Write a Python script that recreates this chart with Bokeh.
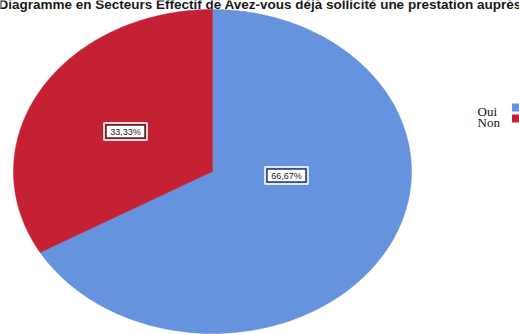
import numpy as np
from bokeh.plotting import figure
from bokeh.models import Range1d, Label
from bokeh.embed import file_html
from bokeh.resources import INLINE

# ---- data ----
categories = ["Oui", "Non"]
percentages = [66.67, 33.33]
label_texts = ["66,67%", "33,33%"]
colors = ["#6593DD", "#C42234"]
title_text = "Diagramme en Secteurs Effectif de Avez-vous déjà sollicité une prestation auprès"

# ---- layout (pixel-like data coords, y downward) ----
W, H = 519, 334
cx, cy, rx, ry = 212, 171, 199, 162
label_pos = [(286, 175), (125, 131)]
box_colors = [("#2B3D73", "#DCE6F7"), ("#5A1C22", "#F3D6D8")]

p = figure(width=W, height=H, output_backend="svg", toolbar_location=None,
           x_range=Range1d(0, W), y_range=Range1d(H, 0),
           min_border=0, outline_line_color=None)
p.axis.visible = False
p.grid.visible = False
p.background_fill_color = "white"
p.border_fill_color = "white"

# slices: first clockwise from 12 o'clock, second fills the rest
fracs = np.array(percentages) / sum(percentages)
start = np.pi / 2
xs, ys = [], []
for f in fracs:
    end = start - f * 2 * np.pi
    t = np.linspace(start, end, 200)
    xs.append(list(np.concatenate([[cx], cx + rx * np.cos(t), [cx]])))
    ys.append(list(np.concatenate([[cy], cy - ry * np.sin(t), [cy]])))
    start = end
p.patches(xs, ys, fill_color=colors, line_color=colors, line_width=0.5)

# value labels
for (lx, ly), txt, (dark, light) in zip(label_pos, label_texts, box_colors):
    p.rect(x=lx, y=ly, width=43, height=17, fill_color=None, line_color=light, line_width=2)
    p.rect(x=lx, y=ly, width=39, height=13, fill_color="white", line_color=dark, line_width=1.5)
    p.text(x=[lx], y=[ly], text=[txt], text_align="center", text_baseline="middle",
           text_font_size="9px", text_color="#222222",
           text_font={"value": "Liberation Sans"})

# legend (drawn manually at right edge)
leg_y = [107, 118]
for c, txt, y in zip(colors, categories, leg_y):
    p.text(x=[477], y=[y + 4], text=[txt], text_align="left", text_baseline="alphabetic",
           text_font_size="13px", text_color="#111111",
           text_font={"value": "Liberation Serif"})
    p.rect(x=515.5, y=y, width=8, height=8, fill_color=c, line_color=None)

# title
p.add_layout(Label(x=-2, y=H - 4, x_units="screen", y_units="screen",
                   text=title_text, text_font="Liberation Sans", text_font_style="bold",
                   text_font_size="13.5px", text_color="#1a1a1a",
                   text_baseline="alphabetic", text_align="left"))

open("out.html", "w").write(file_html(p, INLINE))
